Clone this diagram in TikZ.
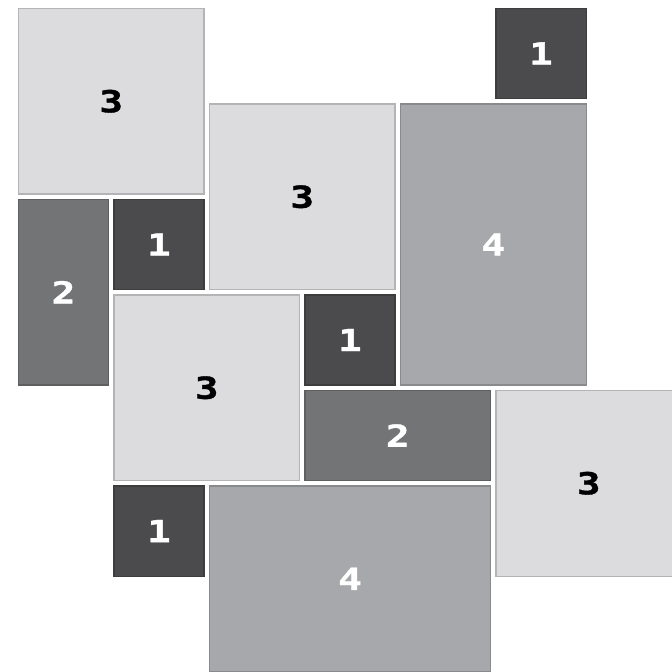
\documentclass[tikz,border=0pt]{standalone}
\usepackage{fontspec}
\newfontfamily\tilefont{DejaVu Sans Mono}[UprightFont=* Bold, FakeStretch=1.3, FakeBold=1.2]
\definecolor{tileone}{HTML}{4B4A4C}
\definecolor{tiletwo}{HTML}{737476}
\definecolor{tilethree}{HTML}{DCDCDE}
\definecolor{tilefour}{HTML}{A7A8AB}
\tikzset{
  tile/.style={draw=#1!82!black, fill=#1, line width=0.3pt, inner sep=0pt,
    font=\tilefont\fontsize{9}{10}\selectfont},
  tile1/.style={tile=tileone, text=white},
  tile2/.style={tile=tiletwo, text=white},
  tile3/.style={tile=tilethree, text=black},
  tile4/.style={tile=tilefour, text=white},
}
\begin{document}
\begin{tikzpicture}[x=0.010417cm, y=-0.010417cm]
  \useasboundingbox (0,0) rectangle (672,672);
  \clip (0,0) rectangle (672,672);
  \def\u{95.5}
  \def\g{5.5}
  % column/row/width/height/value
  \foreach \c/\r/\w/\h/\k [count=\i] in {0/0/2/2/3, 5/0/1/1/1, 2/1/2/2/3, 4/1/2/3/4,
      0/2/1/2/2, 1/2/1/1/1, 1/3/2/2/3, 3/3/1/1/1, 3/4/2/1/2, 5/4/2/2/3,
      1/5/1/1/1, 2/5/3/2/4}
    \node[tile\k, minimum width={(\w*\u-\g)*0.010417cm},
      minimum height={(\h*\u-\g)*0.010417cm}]
      (tile\i) at ({18.5+(\c+\w/2)*\u-\g/2}, {8.5+(\r+\h/2)*\u-\g/2}) {\k};
\end{tikzpicture}
\end{document}
